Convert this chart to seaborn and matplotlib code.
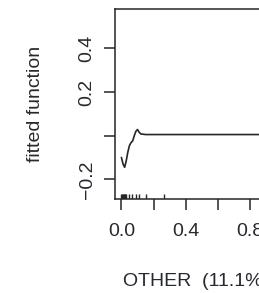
import numpy as np
import pandas as pd
import matplotlib
matplotlib.use("Agg")
import matplotlib.pyplot as plt
import seaborn as sns

# ---- data ----
other_x = [0.0, 0.01, 0.02, 0.03, 0.04, 0.05, 0.06, 0.07, 0.08, 0.09, 0.10,
           0.11, 0.12, 0.15, 0.2, 0.3, 0.5, 0.8, 1.0]
fitted_y = [-0.10, -0.13, -0.145, -0.115, -0.075, -0.045, -0.032, -0.024, 0.0,
            0.02, 0.028, 0.016, 0.008, 0.005, 0.005, 0.005, 0.005, 0.005, 0.005]
rug_x = [0.0, 0.004, 0.008, 0.012, 0.016, 0.02, 0.025, 0.03, 0.047, 0.068,
         0.089, 0.11, 0.15, 0.265]
x_ticks = [0.0, 0.2, 0.4, 0.6, 0.8, 1.0]
x_tick_labels = ["0.0", "", "0.4", "", "0.8", ""]
y_ticks = [-0.2, 0.0, 0.2, 0.4]
y_tick_labels = ["\u22120.2", "", "0.2", "0.4"]
x_label = "OTHER  (11.1%)"
y_label = "fitted function"

df = pd.DataFrame({"x": other_x, "y": fitted_y})
rug_df = pd.DataFrame({"x": rug_x})

sns.set_style("ticks")
plt.rcParams["font.family"] = ["Liberation Sans", "DejaVu Sans"]
plt.rcParams["font.size"] = 14

W, H = 259, 293
fig = plt.figure(figsize=(W / 100, H / 100), dpi=100)
ax_left, ax_right, ax_top, ax_bot = 115, 288.6, 9, 199.3
ax = fig.add_axes([ax_left / W, (H - ax_bot) / H,
                   (ax_right - ax_left) / W, (ax_bot - ax_top) / H])

ink = "#262626"
txt = "#26292e"
sns.lineplot(data=df, x="x", y="y", ax=ax, color=ink, linewidth=1.2,
             estimator=None, sort=False)
sns.rugplot(data=rug_df, x="x", ax=ax, height=0.028, color=ink, linewidth=1.0,
            expand_margins=False)

ax.set_xlim(-0.04, 1.04)
ax.set_ylim(-0.2916, 0.58)

ax.set_xticks(x_ticks, x_tick_labels)
ax.set_yticks(y_ticks, y_tick_labels, rotation=90, va="center")

for s in ax.spines.values():
    s.set_visible(True)
    s.set_color(ink)
    s.set_linewidth(1.1)

ax.tick_params(axis="both", direction="out", length=8, width=1.1,
               color=ink, labelcolor=txt, labelsize=14)
ax.tick_params(axis="x", pad=9)
ax.tick_params(axis="y", pad=6)

ax.set_xlabel(x_label, fontsize=14, color=txt)
ax.set_ylabel(y_label, fontsize=14, color=txt)
ax.xaxis.label.set_horizontalalignment("left")
ax.xaxis.label.set_verticalalignment("center")
ax.xaxis.set_label_coords((123 - ax_left) / (ax_right - ax_left),
                          -(281 - ax_bot) / (ax_bot - ax_top))
ax.yaxis.label.set_verticalalignment("center")
ax.yaxis.set_label_coords(-(ax_left - 35) / (ax_right - ax_left), 0.5)

fig.savefig("out.png", dpi=100)
